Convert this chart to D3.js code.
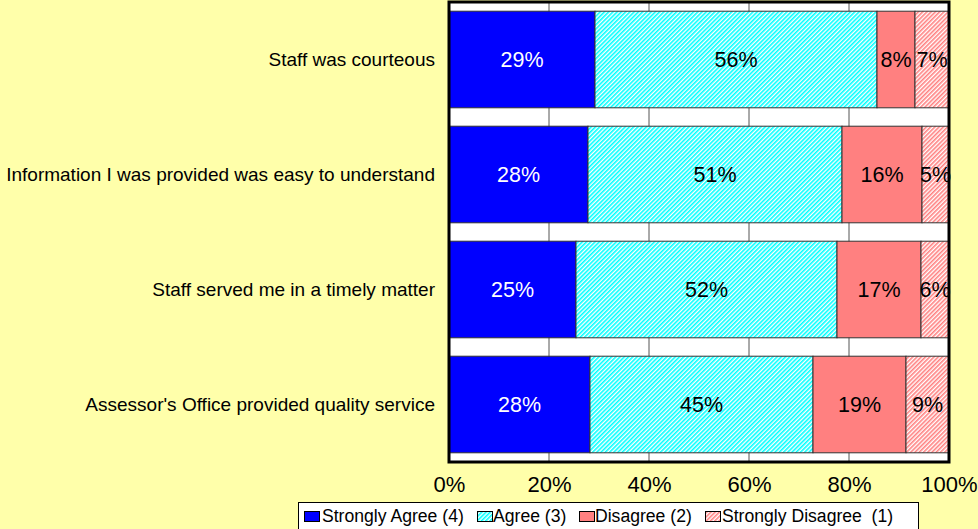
<!DOCTYPE html>
<html><head><meta charset="utf-8">
<script src="https://cdn.jsdelivr.net/npm/d3@7"></script>
<style>body{margin:0;background:#FFFFAA;}svg{display:block;}</style>
</head><body>
<script>
const categories = ["Staff was courteous","Information I was provided was easy to understand","Staff served me in a timely matter","Assessor's Office provided quality service"];
const seriesNames = ["Strongly Agree (4)","Agree (3)","Disagree (2)","Strongly Disagree\u00a0\u00a0(1)"];
const stronglyAgree = [29.2, 27.8, 25.4, 28.2];
const agree = [56.4, 50.8, 52.2, 44.6];
const disagree = [7.6, 16.0, 16.8, 18.6];
const stronglyDisagree = [6.8, 5.4, 5.6, 8.6];
const tickValues = [0, 20, 40, 60, 80, 100];

const W = 978, H = 529;
const FONT = "Liberation Sans, Arial, sans-serif";
const svg = d3.select("body").append("svg").attr("width", W).attr("height", H);
svg.append("rect").attr("width", W).attr("height", H).attr("fill", "#FFFFAA");

const defs = svg.append("defs");
function hatch(id, color){
  const p = defs.append("pattern").attr("id", id).attr("patternUnits","userSpaceOnUse")
    .attr("width", 3).attr("height", 3).attr("patternTransform","rotate(45)");
  p.append("rect").attr("width",3).attr("height",3).attr("fill","#fff");
  p.append("rect").attr("width",1.6).attr("height",3).attr("fill",color);
}
hatch("hCyan", "#00FFFF");
hatch("hPink", "#FF8080");
const fills = ["#0000FF","url(#hCyan)","#FF8080","url(#hPink)"];
const labelColors = ["#fff","#000","#000","#000"];

const plot = {x0: 449, x1: 949, y0: 2, y1: 462};
const x = d3.scaleLinear().domain([0,100]).range([plot.x0, plot.x1]);
const y = d3.scaleBand().domain(categories).range([plot.y0, plot.y1]).paddingInner(0.16).paddingOuter(0.08);

svg.append("rect").attr("x", plot.x0).attr("y", plot.y0).attr("width", plot.x1-plot.x0).attr("height", plot.y1-plot.y0).attr("fill","#fff");
svg.append("g").selectAll("line").data(tickValues.slice(1,-1)).join("line")
  .attr("x1", d=>x(d)).attr("x2", d=>x(d)).attr("y1", plot.y0).attr("y2", plot.y1)
  .attr("stroke","#555").attr("stroke-width",1);

const series = [stronglyAgree, agree, disagree, stronglyDisagree];
const rows = categories.map((c,i)=>{
  let acc = 0;
  return series.map((s,k)=>{ const seg = {cat:c, k, v:s[i], start:acc}; acc += s[i]; return seg; });
});
const segs = rows.flat();
const g = svg.append("g");
g.selectAll("rect").data(segs).join("rect")
  .attr("x", d=>x(d.start)).attr("y", d=>y(d.cat))
  .attr("width", d=>x(d.start+d.v)-x(d.start)).attr("height", y.bandwidth())
  .attr("fill", d=>fills[d.k]).attr("stroke","#333").attr("stroke-width",1);
g.selectAll("text").data(segs).join("text")
  .attr("x", d=>x(d.start+d.v/2)).attr("y", d=>y(d.cat)+y.bandwidth()/2)
  .attr("text-anchor","middle").attr("dominant-baseline","central")
  .attr("font-family",FONT).attr("font-size",21.5)
  .attr("fill", d=>labelColors[d.k])
  .text(d=>Math.round(d.v)+"%");

svg.append("rect").attr("x", plot.x0).attr("y", plot.y0).attr("width", plot.x1-plot.x0).attr("height", plot.y1-plot.y0)
  .attr("fill","none").attr("stroke","#000").attr("stroke-width",3);

svg.append("g").selectAll("text").data(categories).join("text")
  .attr("x", 435).attr("y", d=>y(d)+y.bandwidth()/2)
  .attr("text-anchor","end").attr("dominant-baseline","central")
  .attr("font-family",FONT).attr("font-size",19).attr("fill","#000")
  .text(d=>d);

const xAxis = d3.axisBottom(x).tickValues(tickValues).tickFormat(d=>d+"%").tickSize(0).tickPadding(0);
const ax = svg.append("g").attr("transform",`translate(0,${plot.y1+11})`).call(xAxis);
ax.select(".domain").remove();
ax.selectAll("text").attr("font-family",FONT).attr("font-size",22).attr("fill","#000").attr("dy","0.85em");

const lg = svg.append("g");
lg.append("rect").attr("x",298.5).attr("y",502.5).attr("width",620).attr("height",30).attr("fill","#fff").attr("stroke","#000").attr("stroke-width",1);
const legSq = [304, 477, 579, 705];
const legTx = [322, 493, 595, 722];
seriesNames.forEach((n,k)=>{
  lg.append("rect").attr("x",legSq[k]+0.5).attr("y",511.5).attr("width",15).attr("height",10).attr("fill",fills[k]).attr("stroke","#000").attr("stroke-width",1);
  lg.append("text").attr("x",legTx[k]).attr("y",516).attr("dominant-baseline","central")
    .attr("font-family",FONT).attr("font-size",17.6).attr("fill","#000").text(n);
});
</script>
</body></html>
